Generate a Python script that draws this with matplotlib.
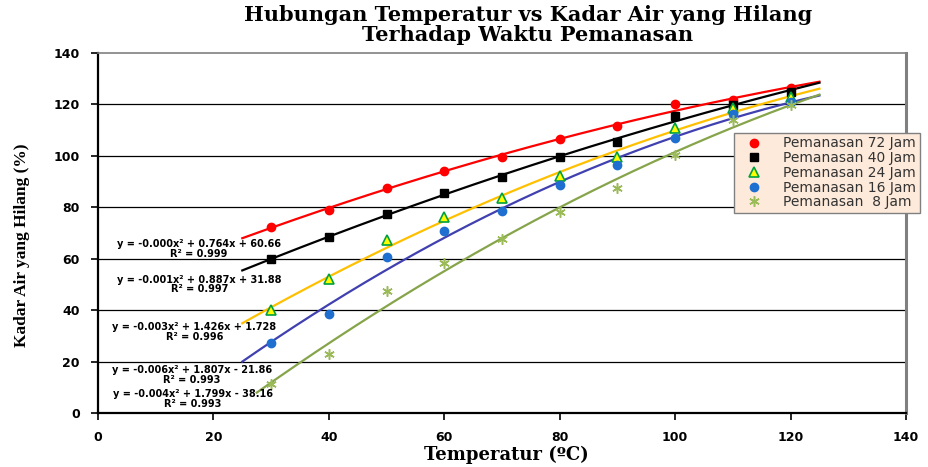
import numpy as np
import matplotlib
matplotlib.use("Agg")
import matplotlib.pyplot as plt
from matplotlib.lines import Line2D

temps = [30, 40, 50, 60, 70, 80, 90, 100, 110, 120]
series_names = ["Pemanasan 72 Jam", "Pemanasan 40 Jam", "Pemanasan 24 Jam",
                "Pemanasan 16 Jam", "Pemanasan  8 Jam"]
jam72 = [72.5, 79.0, 87.6, 94.1, 99.7, 106.4, 111.6, 120.0, 121.7, 126.3]
jam40 = [59.8, 68.6, 77.3, 85.4, 91.7, 99.7, 105.5, 115.5, 119.8, 125.0]
jam24 = [40.1, 52.0, 67.3, 76.4, 83.8, 92.2, 99.7, 110.7, 118.5, 122.8]
jam16 = [27.3, 38.5, 60.5, 70.8, 78.6, 88.7, 96.5, 106.8, 116.3, 121.1]
jam8 = [11.2, 22.8, 47.6, 58.2, 67.5, 78.0, 87.6, 100.3, 114.0, 119.8]
equations = [
    "y = -0.000x² + 0.764x + 60.66\nR² = 0.999",
    "y = -0.001x² + 0.887x + 31.88\nR² = 0.997",
    "y = -0.003x² + 1.426x + 1.728\nR² = 0.996",
    "y = -0.006x² + 1.807x - 21.86\nR² = 0.993",
    "y = -0.004x² + 1.799x - 38.16\nR² = 0.993",
]
xticks = [0, 20, 40, 60, 80, 100, 120, 140]
yticks = [0, 20, 40, 60, 80, 100, 120, 140]

data = [jam72, jam40, jam24, jam16, jam8]
line_colors = ["#FF0000", "#000000", "#FFC000", "#4040B0", "#86A44A"]
marker_styles = [
    dict(marker="o", ms=6, mfc="#FF0000", mec="#FF0000"),
    dict(marker="s", ms=5.5, mfc="#000000", mec="#000000"),
    dict(marker="^", ms=7.5, mfc="#FFFF00", mec="#00A040", mew=1.2),
    dict(marker="o", ms=6, mfc="#1F6FD0", mec="#1F6FD0"),
    dict(marker=(6, 2, 0), ms=7.5, mfc="#9BBB59", mec="#9BBB59", mew=1.1),
]
fit_start = [25, 25, 25, 25, 27.5]
fit_end = 125
eq_pos = [(17.5, 63.8), (17.6, 50.0), (16.7, 31.5), (16.3, 14.8), (16.4, 5.4)]

fig = plt.figure(figsize=(9.29, 4.67), dpi=100)
ax = fig.add_axes([98 / 929, 1 - 413 / 467, (906 - 98) / 929, (413 - 53) / 467])

ax.set_xlim(0, 140)
ax.set_ylim(0, 140)
ax.set_xticks(xticks)
ax.set_yticks(yticks)
for y in yticks[1:-1]:
    ax.axhline(y, color="black", lw=0.9, zorder=1)

t = np.array(temps, dtype=float)
handles = []
for vals, lc, ms, xs, name in zip(data, line_colors, marker_styles, fit_start, series_names):
    coef = np.polyfit(t, np.array(vals), 2)
    xx = np.linspace(xs, fit_end, 200)
    ax.plot(xx, np.polyval(coef, xx), color=lc, lw=1.6, zorder=3)
    ax.plot(temps, vals, linestyle="none", zorder=4, **ms)
    handles.append(Line2D([], [], linestyle="none", **ms))

for (ex, ey), txt in zip(eq_pos, equations):
    ax.text(ex, ey, txt, ha="center", va="center", fontsize=7, fontweight="bold",
            multialignment="center", linespacing=0.95, zorder=5)

for side in ["left", "bottom"]:
    ax.spines[side].set_color("black")
    ax.spines[side].set_linewidth(1.6)
ax.spines["top"].set_color("#808080")
ax.spines["top"].set_linewidth(1.2)
ax.spines["right"].set_color("#808080")
ax.spines["right"].set_linewidth(2.2)
ax.tick_params(axis="both", direction="out", length=5, width=1.2, labelsize=9)
for lab in ax.get_xticklabels() + ax.get_yticklabels():
    lab.set_fontweight("bold")
ax.tick_params(axis="x", pad=8)
ax.tick_params(axis="y", pad=8)

leg = fig.legend(handles, series_names, loc="upper left",
                 bbox_to_anchor=(734 / 929, 1 - 133 / 467), bbox_transform=fig.transFigure,
                 borderaxespad=0, fontsize=10, labelspacing=0.05, borderpad=0.25,
                 handletextpad=0.9, handlelength=2.4, fancybox=False, framealpha=1,
                 facecolor="#FDEADA", edgecolor="#808080")
for txt in leg.get_texts():
    txt.set_color("#333333")

fig.text(528 / 929, 1 - 25 / 467, "Hubungan Temperatur vs Kadar Air yang Hilang\nTerhadap Waktu Pemanasan",
         ha="center", va="center", fontsize=15, fontweight="bold", family="DejaVu Serif",
         linespacing=0.95)
fig.text(506 / 929, 1 - 455 / 467, "Temperatur (ºC)", ha="center", va="center",
         fontsize=13, fontweight="bold", family="DejaVu Serif")
fig.text(22 / 929, 1 - 245 / 467, "Kadar Air yang Hilang (%)", ha="center", va="center",
         rotation=90, fontsize=12.5, fontweight="bold", family="Liberation Serif")

fig.savefig("out.png", dpi=100)
